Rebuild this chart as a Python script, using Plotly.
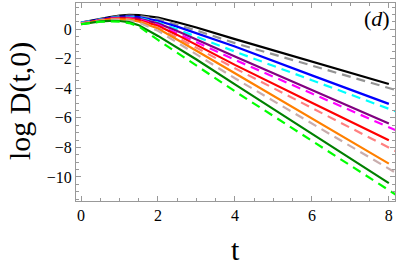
import plotly.graph_objects as go

# time samples
t_solid = [0, 0.25, 0.5, 0.75, 1.0, 1.25, 1.5, 2, 2.5, 3, 4, 6, 8]
t_dash = [0, 0.25, 0.5, 0.75, 1.0, 1.25, 1.5, 2, 2.5, 3, 4, 6, 8, 8.2]

# solid curves
black = [0.45, 0.58, 0.72, 0.83, 0.92, 0.97, 0.96, 0.80, 0.48, 0.12, -0.67, -2.17, -3.71]
blue = [0.43, 0.55, 0.68, 0.78, 0.85, 0.87, 0.83, 0.58, 0.18, -0.28, -1.17, -3.12, -5.05]
purple = [0.41, 0.53, 0.65, 0.74, 0.79, 0.79, 0.72, 0.40, -0.12, -0.68, -1.85, -4.12, -6.38]
red = [0.39, 0.51, 0.62, 0.70, 0.74, 0.72, 0.63, 0.24, -0.38, -1.05, -2.41, -4.97, -7.52]
orange = [0.37, 0.49, 0.59, 0.66, 0.68, 0.64, 0.53, 0.05, -0.68, -1.45, -2.98, -6.04, -9.10]
green = [0.34, 0.45, 0.53, 0.57, 0.56, 0.48, 0.28, -0.45, -1.25, -2.05, -3.73, -7.08, -10.42]

# dashed curves
gray = [0.45, 0.57, 0.70, 0.81, 0.89, 0.92, 0.90, 0.70, 0.33, -0.08, -0.94, -2.45, -3.98, -4.13]
cyan = [0.43, 0.54, 0.66, 0.76, 0.82, 0.83, 0.78, 0.46, 0.00, -0.50, -1.51, -3.45, -5.39, -5.58]
magenta = [0.41, 0.52, 0.63, 0.72, 0.76, 0.75, 0.67, 0.30, -0.27, -0.88, -2.07, -4.35, -6.63, -6.86]
pink = [0.39, 0.50, 0.60, 0.68, 0.71, 0.68, 0.57, 0.10, -0.56, -1.26, -2.64, -5.33, -8.01, -8.28]
rosy = [0.37, 0.48, 0.57, 0.63, 0.64, 0.59, 0.45, -0.10, -0.88, -1.70, -3.32, -6.38, -9.44, -9.75]
lime = [0.34, 0.44, 0.51, 0.54, 0.52, 0.42, 0.20, -0.72, -1.60, -2.45, -4.20, -7.55, -10.90, -11.23]

x_ticks = [0, 2, 4, 6, 8]
y_ticks = [0, -2, -4, -6, -8, -10]

solids = [(black, "#000000"), (blue, "#0000ff"), (purple, "#800080"),
          (red, "#ff0000"), (orange, "#ff8000"), (green, "#008000")]
dashes = [(gray, "#949494"), (cyan, "#00ffff"), (magenta, "#ff00ff"),
          (pink, "#ff8080"), (rosy, "#c8adad"), (lime, "#00ff00")]

fig = go.Figure()
for (ys, c), (yd, cd) in zip(solids, dashes):
    fig.add_trace(go.Scatter(x=t_solid, y=ys, mode="lines",
                             line=dict(color=c, width=2.2), showlegend=False))
    fig.add_trace(go.Scatter(x=t_dash, y=yd, mode="lines",
                             line=dict(color=cd, width=2.2, dash="9px,6px"),
                             showlegend=False))

axis_common = dict(
    showgrid=False, zeroline=False, showline=True, linecolor="#999999",
    linewidth=1, mirror="allticks", ticks="inside", ticklen=5,
    tickcolor="#999999", tickwidth=1,
    tickfont=dict(family="Liberation Serif", size=16, color="#000000"),
    minor=dict(ticks="inside", ticklen=3, dtick=0.5, tickcolor="#999999",
               tickwidth=1, showgrid=False),
)

W, H = 399, 267
pl, pr, pt, pb = 76, 4, 3, 66
pw, ph = W - pl - pr, H - pt - pb

fig.update_layout(
    width=W, height=H,
    margin=dict(l=pl, r=pr, t=pt, b=pb),
    paper_bgcolor="white", plot_bgcolor="white",
    xaxis=dict(range=[-0.13, 8.16], tickvals=x_ticks, **axis_common),
    yaxis=dict(range=[-11.63, 1.78], tickvals=y_ticks, **axis_common),
    annotations=[
        dict(text="t", x=(235 - pl) / pw, y=1 - (249 - pt) / ph,
             xref="paper", yref="paper", xanchor="center", yanchor="middle",
             showarrow=False, font=dict(family="Liberation Serif", size=30, color="#000000")),
        dict(text="(<i>d</i>)", x=(377 - pl) / pw, y=1 - (19 - pt) / ph,
             xref="paper", yref="paper", xanchor="center", yanchor="middle",
             showarrow=False, font=dict(family="Liberation Serif", size=22, color="#000000")),
        dict(text="log D(t,0)", x=(20 - pl) / pw, y=1 - (101 - pt) / ph,
             xref="paper", yref="paper", xanchor="center", yanchor="middle",
             showarrow=False, textangle=-90,
             font=dict(family="Liberation Serif", size=30, color="#000000")),
    ],
)

fig.write_html("out.html", config={"displayModeBar": False},
               post_script="document.body.style.margin='0';")
